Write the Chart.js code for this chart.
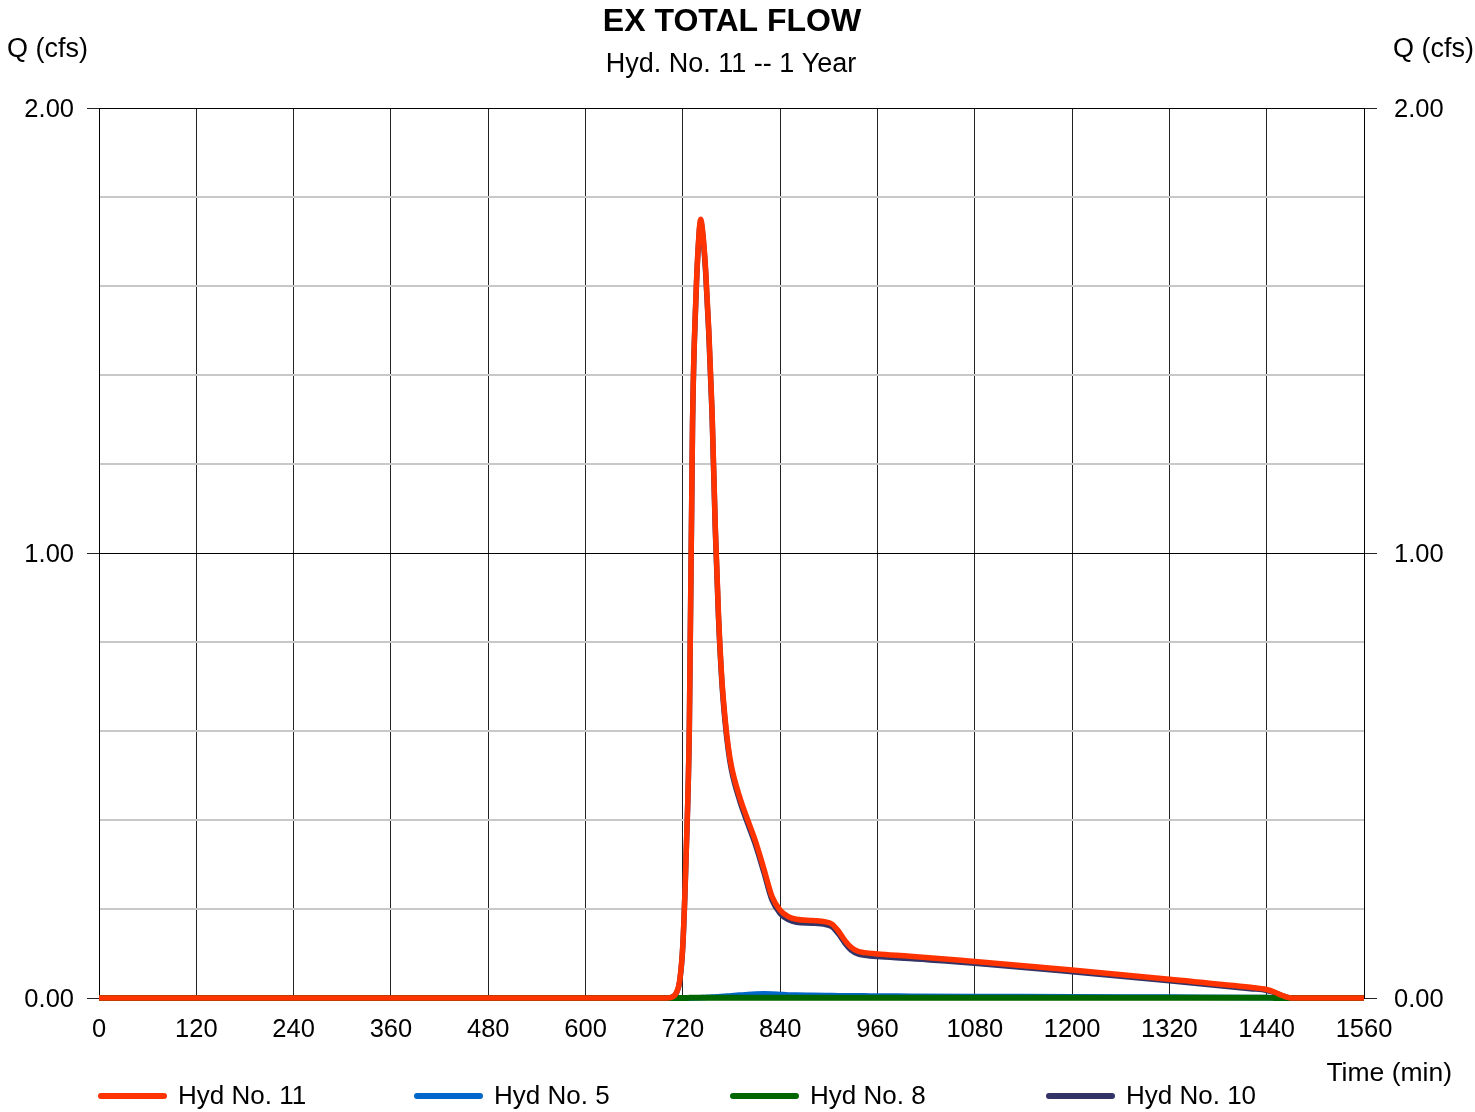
<!DOCTYPE html>
<html>
<head>
<meta charset="utf-8">
<title>EX TOTAL FLOW</title>
<script src="https://cdn.jsdelivr.net/npm/chart.js@4.4.1/dist/chart.umd.min.js"></script>
<style>
	html, body { margin: 0; padding: 0; background: #fff; }
	#wrap { width: 1475px; height: 1112px; }
</style>
</head>
<body>
<div id="wrap"><canvas id="chart-0" width="1475" height="1112"></canvas></div>
<script>
'use strict';

var FONT = '"Liberation Sans", Arial, Helvetica, sans-serif';

// time (min)
var times = [0, 120, 240, 360, 480, 600, 700, 708, 712, 716,
	720, 724, 728, 732, 736, 740, 742, 744, 748, 752,
	756, 760, 764, 768, 772, 776, 780, 790, 800, 810,
	820, 830, 840, 850, 860, 880, 896, 904, 912, 920,
	928, 936, 944, 960, 1000, 1080, 1200, 1320, 1420, 1440,
	1450, 1460, 1470, 1560];

// Q (cfs)
var hyd11 = [0, 0, 0, 0, 0, 0, 0, 0.003, 0.012, 0.038,
	0.12, 0.32, 0.61, 1.30, 1.57, 1.72, 1.75, 1.73, 1.64, 1.50,
	1.32, 1.06, 0.86, 0.72, 0.63, 0.565, 0.52, 0.452, 0.40, 0.35,
	0.29, 0.228, 0.197, 0.183, 0.177, 0.174, 0.171, 0.166, 0.150, 0.129,
	0.113, 0.105, 0.102, 0.099, 0.094, 0.082, 0.063, 0.042, 0.024, 0.019,
	0.013, 0.005, 0, 0];

var hyd5 = [0, 0, 0, 0, 0, 0, 0, 0, 0, 0,
	0, 0, 0, 0.0002, 0.0004, 0.0006, 0.0008, 0.001, 0.0013, 0.0017,
	0.002, 0.0025, 0.003, 0.0035, 0.004, 0.0045, 0.005, 0.0065, 0.008, 0.009,
	0.0095, 0.009, 0.008, 0.007, 0.0065, 0.006, 0.0056, 0.0054, 0.0052, 0.005,
	0.005, 0.0049, 0.0048, 0.0046, 0.0042, 0.0036, 0.003, 0.002, 0.0012, 0.001,
	0.0008, 0.0005, 0.0002, 0];

var hyd8 = [0, 0, 0, 0, 0, 0, 0, 0, 0, 0,
	0, 0.0002, 0.0003, 0.0004, 0.0004, 0.0004, 0.0004, 0.0004, 0.0004, 0.0004,
	0.0004, 0.0004, 0.0004, 0.0004, 0.0004, 0.0004, 0.0004, 0.0004, 0.0004, 0.0004,
	0.0004, 0.0004, 0.0004, 0.0004, 0.0004, 0.0004, 0.0004, 0.0004, 0.0004, 0.0004,
	0.0004, 0.0004, 0.0004, 0.0004, 0.0004, 0.0004, 0.0004, 0.0004, 0.0004, 0.0004,
	0.0002, 0, 0, 0];

var hyd10 = [0, 0, 0, 0, 0, 0, 0, 0.003, 0.011, 0.036,
	0.118, 0.317, 0.606, 1.295, 1.565, 1.715, 1.745, 1.725, 1.634, 1.494,
	1.313, 1.053, 0.853, 0.713, 0.622, 0.557, 0.512, 0.444, 0.392, 0.342,
	0.282, 0.220, 0.190, 0.176, 0.170, 0.168, 0.165, 0.160, 0.144, 0.123,
	0.107, 0.099, 0.096, 0.093, 0.089, 0.078, 0.059, 0.039, 0.021, 0.017,
	0.012, 0.005, 0, 0];

var xTicks = [0, 120, 240, 360, 480, 600, 720, 840, 960, 1080, 1200, 1320, 1440, 1560];
var yLabels = ['0.00', '1.00', '2.00'];

var series = [
	{label: 'Hyd No. 11', values: hyd11, color: '#ff3300', width: 5.5, order: 0},
	{label: 'Hyd No. 5', values: hyd5, color: '#0066cc', width: 5.5, order: 2},
	{label: 'Hyd No. 8', values: hyd8, color: '#006600', width: 6, order: 1},
	{label: 'Hyd No. 10', values: hyd10, color: '#333366', width: 5.5, order: 3}
];

function points(values) {
	return times.map(function(t, i) {
		return {x: t, y: values[i]};
	});
}

function isMajor(v) {
	return Math.abs(v - Math.round(v)) < 1e-6;
}

var gridColor = function(ctx) {
	return ctx.tick && isMajor(ctx.tick.value) ? '#000000' : '#c8c8c8';
};
var gridWidth = function(ctx) {
	return ctx.tick && isMajor(ctx.tick.value) ? 1 : 2;
};
var tickColor = function(ctx) {
	return ctx.tick && isMajor(ctx.tick.value) ? '#222222' : 'rgba(0,0,0,0)';
};
var yLabel = function(v) {
	return isMajor(v) ? yLabels[Math.round(v)] : '';
};

// titles, axis names and legend
var textPlugin = {
	id: 'texts',
	afterDraw: function(chart) {
		var ctx = chart.ctx;
		ctx.save();
		ctx.fillStyle = '#000';
		ctx.textBaseline = 'middle';

		ctx.textAlign = 'center';
		ctx.font = 'bold 32px ' + FONT;
		ctx.fillText('EX TOTAL FLOW', 732, 22);
		ctx.font = '27px ' + FONT;
		ctx.fillText('Hyd. No. 11 -- 1 Year', 731, 65);

		ctx.textAlign = 'left';
		ctx.fillText('Q (cfs)', 7, 50);
		ctx.textAlign = 'right';
		ctx.fillText('Q (cfs)', 1474, 50);
		ctx.font = '26.5px ' + FONT;
		ctx.fillText('Time (min)', 1452, 1074);

		ctx.textAlign = 'left';
		ctx.font = '26px ' + FONT;
		ctx.lineCap = 'round';
		series.forEach(function(s, i) {
			var x = 99 + i * 316;
			ctx.strokeStyle = s.color;
			ctx.lineWidth = 6;
			ctx.beginPath();
			ctx.moveTo(x + 2, 1096);
			ctx.lineTo(x + 65, 1096);
			ctx.stroke();
			ctx.fillText(s.label, x + 79, 1097);
		});
		ctx.restore();
	}
};

window.addEventListener('load', function() {
	new Chart('chart-0', {
		type: 'line',
		data: {
			datasets: series.map(function(s) {
				return {
					label: s.label,
					data: points(s.values),
					borderColor: s.color,
					backgroundColor: s.color,
					borderWidth: s.width,
					pointRadius: 0,
					fill: false,
					clip: 8,
					cubicInterpolationMode: 'monotone',
					order: s.order
				};
			})
		},
		options: {
			responsive: false,
			animation: false,
			devicePixelRatio: 1,
			layout: {
				padding: {top: 108, left: 0, right: 0, bottom: 0}
			},
			plugins: {
				legend: {display: false},
				title: {display: false},
				tooltip: {enabled: false}
			},
			scales: {
				x: {
					type: 'linear',
					min: 0,
					max: 1560,
					afterBuildTicks: function(scale) {
						scale.ticks = xTicks.map(function(v) { return {value: v}; });
					},
					afterFit: function(scale) { scale.height = 114; },
					ticks: {
						autoSkip: false,
						maxRotation: 0,
						padding: 17,
						color: '#000',
						font: {family: FONT, size: 25.5},
						callback: function(v) { return String(v); }
					},
					grid: {color: '#222222', lineWidth: 1, drawTicks: false},
					border: {color: '#000', width: 1}
				},
				y: {
					position: 'left',
					min: 0,
					max: 2,
					afterFit: function(scale) { scale.width = 99; },
					ticks: {
						stepSize: 0.2,
						autoSkip: false,
						padding: 13,
						labelOffset: 2,
						color: '#000',
						font: {family: FONT, size: 25.5},
						callback: yLabel
					},
					grid: {
						color: gridColor,
						lineWidth: gridWidth,
						tickColor: tickColor,
						tickWidth: 1,
						tickLength: 12
					},
					border: {color: '#000', width: 1}
				},
				y2: {
					position: 'right',
					min: 0,
					max: 2,
					afterFit: function(scale) { scale.width = 111; },
					ticks: {
						stepSize: 0.2,
						autoSkip: false,
						padding: 17,
						labelOffset: 2,
						color: '#000',
						font: {family: FONT, size: 25.5},
						callback: yLabel
					},
					grid: {
						drawOnChartArea: false,
						tickColor: tickColor,
						tickWidth: 1,
						tickLength: 13
					},
					border: {color: '#000', width: 1}
				}
			}
		},
		plugins: [textPlugin]
	});
});
</script>
</body>
</html>
